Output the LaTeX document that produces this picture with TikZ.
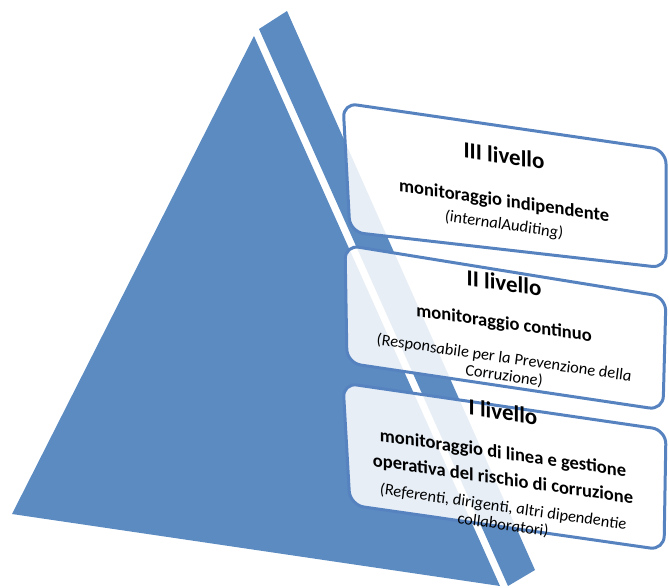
\documentclass[tikz,border=0pt]{standalone}
\usepackage{fontspec}
\setmainfont{Carlito}[ItalicFont={Carlito Italic}, BoldFont={Carlito Bold}, BoldItalicFont={Carlito Bold Italic}]
\definecolor{pyrblue}{RGB}{92,139,194}
\definecolor{rimblue}{RGB}{86,131,191}
\newcommand{\lvlttl}{\fontsize{23}{25}\selectfont\bfseries}
\newcommand{\lvlsub}{\fontsize{18.5}{21}\selectfont\bfseries}
\newcommand{\lvlnte}{\fontsize{16.5}{18}\selectfont\itshape}

\begin{document}
\begin{tikzpicture}[
    x=1pt, y=-1pt,
    face/.style={fill=pyrblue, draw=none},
    lvlbox/.style={draw=rimblue, line width=3pt, rounded corners=14pt, fill=white, fill opacity=0.86},
    lvltext/.style={yslant=-0.145, inner sep=0pt, align=center, font=\fontsize{16.5}{18}\selectfont} % schraeg wie die Kaesten
]
\useasboundingbox (0,0) rectangle (669,587);

% Pyramide
\fill[face] (254,36) -- (12,514) -- (500,586) -- cycle;
\fill[face] (259,29) -- (287,11) -- (535,570) -- (508,586) -- cycle;

% Kaesten
\draw[lvlbox] (343,103) -- (666,150) -- (666,268) -- (350,232) -- cycle;
\draw[lvlbox] (345,245) -- (666,297) -- (663,410) -- (347,363) -- cycle;
\draw[lvlbox] (343,383) -- (666,430) -- (664,550) -- (350,505) -- cycle;

\node[lvltext] (lv3) at (504,190) {{\lvlttl III livello}\\[25pt]
    {\lvlsub monitoraggio indipendente}\\[5pt]
    {\lvlnte (internalAuditing)}};

\node[lvltext] (lv2) at (504,329) {{\lvlttl II livello}\\[20pt]
    {\lvlsub monitoraggio continuo}\\[16pt]
    {\lvlnte (Responsabile per la Prevenzione della}\\
    {\lvlnte Corruzione)}};

\node[lvltext] (lv1) at (503,468) {{\lvlttl I livello}\\[21pt]
    {\lvlsub monitoraggio di linea e gestione}\\[8pt]
    {\lvlsub operativa del rischio di corruzione}\\[9pt]
    {\lvlnte (Referenti, dirigenti, altri dipendentie}\\
    {\lvlnte collaboratori)}};

\end{tikzpicture}
\end{document}
